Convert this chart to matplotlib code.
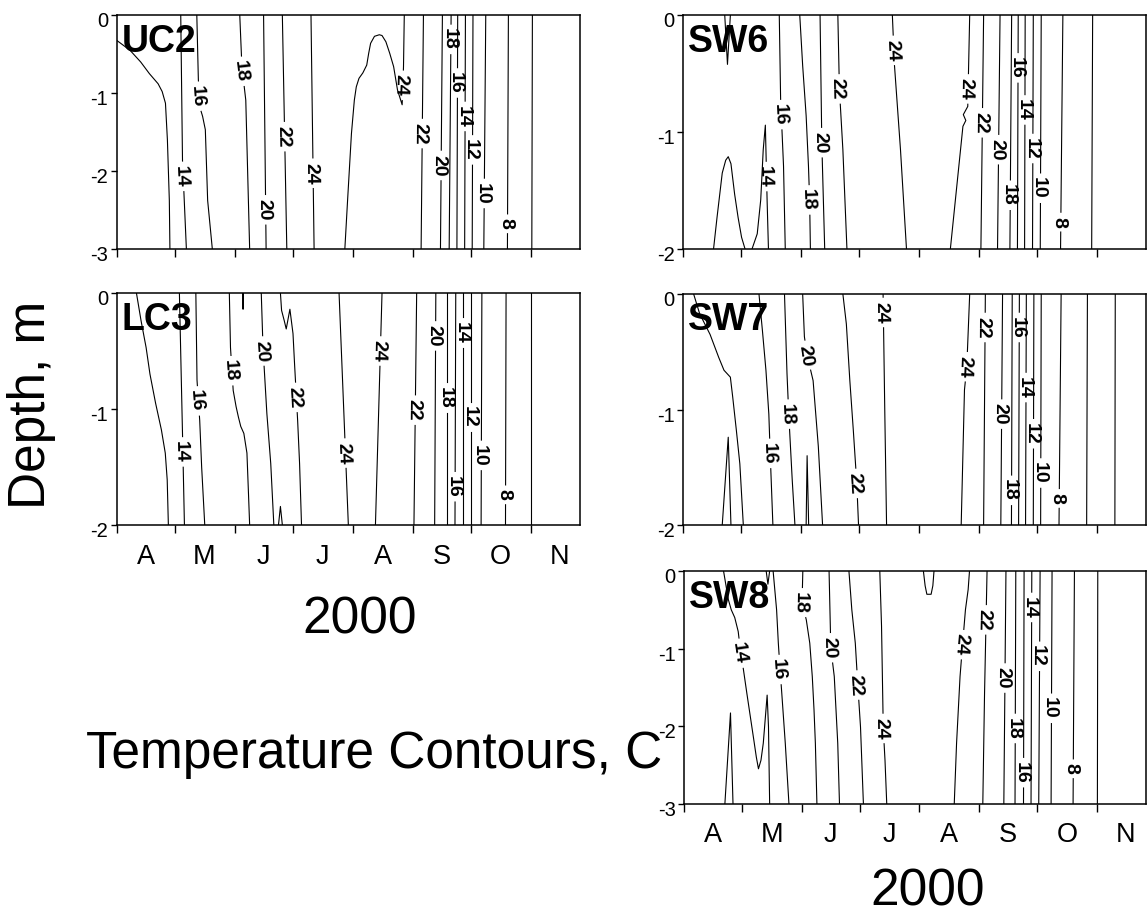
import numpy as np
import matplotlib.pyplot as plt
from matplotlib.transforms import ScaledTranslation

plt.rcParams['font.family'] = ['Liberation Sans', 'DejaVu Sans']
plt.rcParams['axes.unicode_minus'] = False

# x axis is day of year 2000 (Apr 1 = 92)
month_starts = [92, 122, 153, 183, 214, 245, 275, 306]
month_mids = [107, 137.5, 168, 198.5, 229.5, 260, 290.5, 321]
month_names = ['A', 'M', 'J', 'J', 'A', 'S', 'O', 'N']
day_end = 331.5

# each isotherm: level (C), day of year at each vertex, depth (m) at each vertex
# label_depth: depth where the inline label sits (None = no label)

# ---- UC2 ----
uc2_levels = [12, 14, 16, 18, 20, 22, 24, 24, 22, 20, 18, 16, 14, 12, 10, 8, 6]
uc2_days = [
    [92, 99, 104.5, 109.0, 113.5, 115.6, 117.3, 118.3, 119.3, 119.6],
    [125.2, 126.1, 128.1],
    [133.5, 134.3, 135.3, 136.5, 137.9, 139.1, 141.5],
    [155.7, 156.8, 158.8, 160.8],
    [168.0, 169.3],
    [177.7, 180.0],
    [192.5, 194.1],
    [240.7, 240.3, 239.6, 237.2, 235.2, 233.2, 231.2, 229.2, 227.8, 225.3, 223.3,
     222.3, 221.3, 219.3, 217.3, 215.9, 214.9, 213.4, 212.4, 211.4, 210.0],
    [250.6, 249.4],
    [260.4, 259.4],
    [264.9, 263.9],
    [268.3, 267.9],
    [272.3, 271.9],
    [276.2, 275.8],
    [282.8, 281.8],
    [294.5, 294.0],
    [306.9, 306.6],
]
uc2_depths = [
    [-0.32, -0.45, -0.6, -0.75, -0.88, -0.98, -1.13, -1.6, -2.38, -3.0],
    [0, -1.86, -3],
    [0, -0.83, -1.2, -1.3, -1.47, -2.38, -3],
    [0, -0.66, -1.09, -3],
    [0, -3],
    [0, -3],
    [0, -3],
    [0, -0.66, -1.15, -0.96, -0.66, -0.49, -0.34, -0.26, -0.25, -0.27, -0.36,
     -0.49, -0.64, -0.74, -0.81, -0.92, -1.09, -1.52, -1.95, -2.38, -3.0],
    [0, -3], [0, -3], [0, -3], [0, -3], [0, -3], [0, -3], [0, -3], [0, -3], [0, -3],
]
uc2_label_depth = [None, -2.07, -1.04, -0.72, -2.5, -1.56, -2.03, -0.9, -1.52, -1.93,
                   -0.31, -0.87, -1.3, -1.73, -2.29, -2.68, None]

# ---- LC3 ----
lc3_levels = [12, 14, 16, 18, 20, 20, 20, 22, 24, 24, 22, 20, 18, 16, 14, 12, 10, 8, 6]
lc3_days = [
    [102.3, 104.7, 107.3, 109.3, 112.2, 115.2, 117.2, 118.2, 118.8],
    [124.5, 126.1, 127.1],
    [133.0, 133.6, 135.0, 136.0, 137.6],
    [150.3, 150.9, 152.3, 153.8, 155.0, 156.2, 157.8, 159.4, 160.2, 160.8],
    [166.8, 167.7, 169.7, 171.7, 173.3],
    [157.2, 157.4, 157.6],
    [175.7, 176.7, 177.7],
    [176.7, 177.3, 178.7, 179.7, 181.6, 183.2, 184.0, 185.6, 186.6, 187.6],
    [207.0, 211.8],
    [229.2, 225.8],
    [247.1, 245.7],
    [257.0, 256.4],
    [262.9, 262.9],
    [267.3, 266.9],
    [271.3, 271.3],
    [275.2, 275.2],
    [280.8, 280.4],
    [293.3, 293.0],
    [306.1, 306.1],
]
lc3_depths = [
    [0, -0.24, -0.47, -0.7, -0.95, -1.18, -1.38, -1.61, -2],
    [0, -1.21, -2],
    [0, -0.75, -1.1, -1.5, -2],
    [0, -0.47, -0.84, -0.98, -1.07, -1.15, -1.21, -1.38, -1.73, -2],
    [0, -0.47, -1.04, -1.47, -2],
    [0, -0.14, 0],
    [-2, -1.84, -2],
    [0, -0.15, -0.24, -0.31, -0.14, -0.35, -0.61, -1.1, -1.47, -2],
    [0, -2], [0, -2], [0, -2], [0, -2], [0, -2], [0, -2], [0, -2], [0, -2],
    [0, -2], [0, -2], [0, -2],
]
lc3_label_depth = [None, -1.37, -0.93, -0.67, -0.5, None, None, -0.9, -1.38, -0.5,
                   -1.01, -0.37, -0.9, -1.67, -0.34, -1.07, -1.4, -1.74, None]

# ---- SW6 ----
sw6_levels = [14, 14, 14, 16, 18, 20, 22, 24, 24, 22, 20, 18, 16, 14, 12, 10, 8, 6]
sw6_days = [
    [113.6, 115.0, 116.5],
    [107.8, 109.6, 112.3, 114.1, 115.4, 116.8, 118.7, 120.5, 122.3, 124.1],
    [136.2, 135.5, 134.9, 134.6, 133.5, 132.2, 130.4, 127.7],
    [141.8, 142.5, 144.0, 144.9],
    [152.4, 153.9, 155.7, 156.9, 157.5, 157.9],
    [162.9, 163.8, 165.3],
    [172.1, 172.9, 174.7, 176.8],
    [200.3, 201.4, 204.5, 207.6],
    [240.3, 239.3, 237.0, 238.3, 236.8, 230.3],
    [247.5, 246.1],
    [256.0, 254.7],
    [262.0, 261.1],
    [265.4, 265.0],
    [269.0, 268.7],
    [273.2, 272.8],
    [277.3, 276.8],
    [288.5, 287.3],
    [303.9, 303.4],
]
sw6_depths = [
    [0, -0.42, 0],
    [-2, -1.73, -1.35, -1.24, -1.21, -1.27, -1.53, -1.73, -1.9, -2],
    [-2, -1.58, -1.15, -0.94, -1.15, -1.58, -1.87, -2],
    [0, -0.72, -1.29, -2],
    [0, -0.43, -0.86, -1.29, -1.58, -2],
    [0, -1.09, -2],
    [0, -0.63, -1.15, -2],
    [0, -0.43, -1.15, -2],
    [0, -0.78, -0.85, -0.9, -0.95, -2],
    [0, -2], [0, -2], [0, -2], [0, -2], [0, -2], [0, -2], [0, -2], [0, -2], [0, -2],
]
sw6_label_depth = [None, None, -1.38, -0.85, -1.58, -1.09, -0.63, -0.3, -0.63, -0.92,
                   -1.15, -1.54, -0.45, -0.81, -1.14, -1.48, -1.77, None]

# ---- SW7 ----
sw7_levels = [14, 12, 16, 18, 18, 20, 22, 24, 24, 22, 20, 18, 16, 14, 12, 10, 8, 6, 4]
sw7_days = [
    [97.5, 100.6, 106.0, 110.5, 113.2, 116.5, 117.7, 119.6, 121.4, 123.2],
    [112.3, 115.4, 116.8],
    [131.3, 133.1, 134.9, 136.4, 137.1, 138.5],
    [144.5, 145.8, 146.7, 148.5, 149.9],
    [155.7, 156.2, 157.0],
    [153.9, 154.8, 156.2, 159.3, 162.0, 164.2],
    [174.7, 176.5, 178.3, 180.1, 181.9, 182.8],
    [195.5, 196.4, 197.3],
    [240.3, 238.8, 237.6, 235.9],
    [248.4, 247.5],
    [257.3, 256.4],
    [262.3, 261.9],
    [266.0, 265.6],
    [269.6, 269.2],
    [273.5, 273.2],
    [277.3, 277.0],
    [287.6, 286.5],
    [301.2, 300.8],
    [315.6, 315.4],
]
sw7_depths = [
    [0, -0.17, -0.35, -0.55, -0.66, -0.72, -0.89, -1.18, -1.47, -2],
    [-2, -1.24, -2],
    [0, -0.32, -0.66, -1.04, -1.38, -2],
    [0, -0.69, -1.04, -1.61, -2],
    [-2, -1.4, -2],
    [0, -0.37, -0.53, -0.75, -1.32, -2],
    [0, -0.26, -0.75, -1.18, -1.64, -2],
    [0, -1.04, -2],
    [0, -0.63, -0.83, -2],
    [0, -2], [0, -2], [0, -2], [0, -2], [0, -2], [0, -2], [0, -2], [0, -2],
    [0, -2], [0, -2],
]
sw7_label_depth = [None, None, -1.38, -1.04, None, -0.53, -1.64, -0.16, -0.63, -0.29,
                   -1.04, -1.7, -0.29, -0.81, -1.21, -1.55, -1.77, None, None]

# ---- SW8 ----
sw8_levels = [14, 12, 16, 16, 18, 20, 22, 24, 24, 24, 22, 20, 18, 16, 14, 12, 10, 8, 6]
sw8_days = [
    [112.5, 115.0, 116.5, 118.3, 120.1, 121.0, 122.8, 124.6, 126.4, 128.2, 129.5,
     130.6, 131.9, 133.1, 134.2, 135.1, 135.8, 136.4],
    [113.2, 116.1, 117.4],
    [134.6, 135.5, 136.4],
    [138.2, 140.0, 140.9, 141.8, 142.7, 144.5, 146.4],
    [153.6, 153.2, 155.4, 157.2, 158.5, 159.4, 160.1, 160.9],
    [167.2, 168.1, 169.9, 171.7, 172.6],
    [177.5, 179.0, 180.8, 182.1, 183.5, 185.0],
    [193.5, 194.4, 195.3, 196.2, 197.1],
    [216.1, 217.0, 217.9, 220.1, 221.0, 221.6],
    [240.0, 239.3, 237.9, 236.4, 235.1, 233.3, 232.1],
    [249.1, 247.8, 246.9],
    [258.9, 257.8],
    [264.0, 263.6],
    [268.3, 268.0],
    [272.3, 271.9],
    [276.6, 275.9],
    [282.8, 282.3],
    [294.4, 293.7],
    [306.5, 306.3],
]
sw8_depths = [
    [0, -0.37, -0.5, -0.6, -0.78, -0.97, -1.27, -1.58, -1.88, -2.18, -2.4,
     -2.55, -2.44, -2.22, -1.88, -1.6, -2.01, -3],
    [-3, -1.83, -3],
    [0, -0.17, 0],
    [0, -0.5, -0.93, -1.27, -1.58, -2.22, -3],
    [0, -0.41, -0.63, -0.93, -1.36, -1.79, -2.22, -3],
    [0, -0.99, -1.36, -2.22, -3],
    [0, -0.5, -0.93, -1.47, -2.01, -3],
    [0, -0.71, -2.03, -2.44, -3],
    [0, -0.19, -0.3, -0.3, -0.19, 0],
    [0, -0.24, -0.5, -0.95, -1.36, -2.22, -3],
    [0, -1.58, -3],
    [0, -3], [0, -3], [0, -3], [0, -3], [0, -3], [0, -3], [0, -3], [0, -3],
]
sw8_label_depth = [-1.06, None, None, -1.27, -0.41, -0.99, -1.47, -2.03, None, -0.95,
                   -0.63, -1.38, -2.03, -2.6, -0.47, -1.1, -1.77, -2.55, None]

W, H = 1147, 917
fig = plt.figure(figsize=(W / 100, H / 100), dpi=100)

LW = 0.8
LAB_FS = 14
digit_px = 0.556 * LAB_FS * 100 / 72


def px_axes(l, t, r, b):
    return fig.add_axes([l / W, 1 - b / H, (r - l) / W, (b - t) / H])


def draw_isotherms(ax, levels, days, depths, label_depth):
    to_data = ax.transData.inverted()
    for lev, xs, zs, lz in zip(levels, days, depths, label_depth):
        xs = np.asarray(xs, float)
        zs = np.asarray(zs, float)
        if lz is None:
            ax.plot(xs, zs, color='black', lw=LW)
            continue
        xy = ax.transData.transform(np.column_stack([xs, zs]))
        i = next(k for k in range(len(zs) - 1)
                 if min(zs[k], zs[k + 1]) <= lz <= max(zs[k], zs[k + 1]))
        f = (lz - zs[i]) / (zs[i + 1] - zs[i]) if zs[i + 1] != zs[i] else 0.5
        seg = np.hypot(*(xy[1:] - xy[:-1]).T)
        s = np.concatenate([[0], np.cumsum(seg)])
        s0 = s[i] + f * seg[i]
        half = len(str(lev)) * digit_px / 2 + 4.5
        # line with a gap where the label goes
        for a, b in ((0, s0 - half), (s0 + half, s[-1])):
            if b - a < 0.5:
                continue
            ss = np.concatenate([[a], s[(s > a) & (s < b)], [b]])
            piece = to_data.transform(np.column_stack(
                [np.interp(ss, s, xy[:, 0]), np.interp(ss, s, xy[:, 1])]))
            ax.plot(piece[:, 0], piece[:, 1], color='black', lw=LW)
        v = xy[i + 1] - xy[i]
        if v[1] > 0:
            v = -v
        ang = np.degrees(np.arctan2(v[1], v[0]))
        lx, ly = to_data.transform(xy[i] + f * (xy[i + 1] - xy[i]))
        ax.text(lx, ly, str(lev), rotation=ang, rotation_mode='anchor',
                ha='center', va='center_baseline', fontsize=LAB_FS, fontweight='bold')


panels = [
    ('UC2', (116.5, 15.3, 580, 248.7), -3, uc2_levels, uc2_days, uc2_depths, uc2_label_depth, False),
    ('LC3', (116.5, 293, 580, 525), -2, lc3_levels, lc3_days, lc3_depths, lc3_label_depth, True),
    ('SW6', (683, 15.3, 1146, 249), -2, sw6_levels, sw6_days, sw6_depths, sw6_label_depth, False),
    ('SW7', (683, 294, 1146, 525), -2, sw7_levels, sw7_days, sw7_depths, sw7_label_depth, False),
    ('SW8', (684, 571, 1146, 803.7), -3, sw8_levels, sw8_days, sw8_depths, sw8_label_depth, True),
]

for name, rect, zmin, levels, days, depths, label_depth, months in panels:
    ax = px_axes(*rect)
    ax.set_xlim(92, day_end)
    ax.set_ylim(zmin, 0)
    for sp in ax.spines.values():
        sp.set_linewidth(1.1)

    ax.set_xticks(month_starts)
    ax.set_xticklabels([])
    ax.set_xticks(month_mids, minor=True)
    if months:
        ax.set_xticklabels(month_names, minor=True, fontsize=19.5)
    else:
        ax.set_xticklabels([], minor=True)
    ax.tick_params(axis='x', which='major', direction='out', length=6, width=1)
    ax.tick_params(axis='x', which='minor', length=0, pad=13.5)

    yt = list(range(zmin, 1))
    ax.set_yticks(yt)
    ax.set_yticklabels([str(v) for v in yt])
    ax.tick_params(axis='y', direction='out', length=4.5, width=1, labelsize=14.5, pad=1.5)
    for lab in ax.get_yticklabels():
        lab.set_transform(lab.get_transform() + ScaledTranslation(0, -0.045, fig.dpi_scale_trans))

    draw_isotherms(ax, levels, days, depths, label_depth)

    fig.text((rect[0] + 5) / W, 1 - (rect[1] + 36.5) / H, name, fontsize=27,
             fontweight='bold', va='baseline', ha='left')

fig.text(32 / W, 1 - 405 / H, 'Depth, m', rotation=90, fontsize=37,
         ha='center', va='center')
fig.text(360 / W, 1 - 633 / H, '2000', fontsize=37, ha='center', va='baseline')
fig.text(86 / W, 1 - 768 / H, 'Temperature Contours, C', fontsize=37,
         ha='left', va='baseline')
fig.text(928 / W, 1 - 906 / H, '2000', fontsize=37, ha='center', va='baseline')

fig.savefig('out.png', dpi=100, facecolor='white')
